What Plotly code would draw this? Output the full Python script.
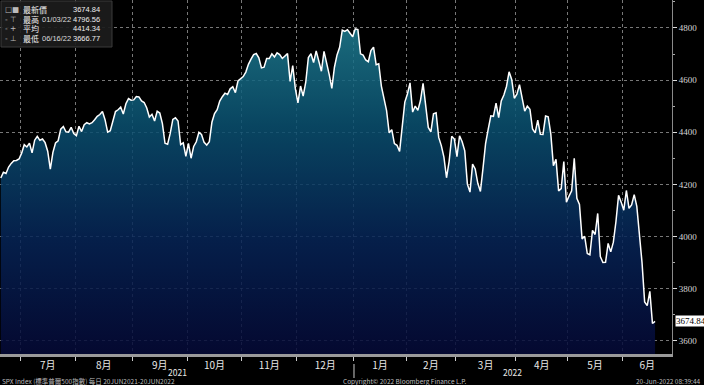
import pandas as pd
import plotly.graph_objects as go

# ---------------- data (SPX daily closes, 21 Jun 2021 - 17 Jun 2022) ----------------
start_date = "2021-06-21"
end_date = "2022-06-17"
market_holidays = ["2021-07-05", "2021-09-06", "2021-11-25", "2021-12-24",
                   "2022-01-17", "2022-02-21", "2022-04-15", "2022-05-30"]

close_2021_06 = [4224.79, 4246.44, 4241.84, 4266.49, 4280.70, 4290.61, 4291.80, 4297.50]
close_2021_07 = [4319.94, 4352.34, 4343.54, 4358.13, 4320.82, 4369.55, 4384.63, 4369.21, 4374.30,
                 4360.03, 4327.16, 4258.49, 4323.06, 4358.69, 4367.48, 4411.79, 4422.30, 4401.46,
                 4400.64, 4419.15, 4395.26]
close_2021_08 = [4387.16, 4423.15, 4402.66, 4429.10, 4436.52, 4432.35, 4436.75, 4447.70, 4460.83,
                 4468.00, 4479.71, 4448.08, 4400.27, 4405.80, 4441.67, 4479.53, 4486.23, 4496.19,
                 4469.91, 4509.37, 4528.79, 4522.68]
close_2021_09 = [4524.09, 4536.95, 4535.43, 4520.03, 4514.07, 4493.28, 4458.58, 4468.73, 4443.05,
                 4480.70, 4473.75, 4432.99, 4357.73, 4354.19, 4395.64, 4448.98, 4455.48, 4443.11,
                 4352.63, 4359.46, 4307.54]
close_2021_10 = [4357.04, 4300.46, 4345.72, 4363.55, 4399.76, 4391.34, 4361.19, 4350.65, 4363.80,
                 4438.26, 4471.37, 4486.46, 4519.63, 4536.19, 4549.78, 4544.90, 4566.48, 4574.79,
                 4551.68, 4596.42, 4605.38]
close_2021_11 = [4613.67, 4630.65, 4660.57, 4680.06, 4697.53, 4701.70, 4685.25, 4646.71, 4649.27,
                 4682.85, 4682.80, 4700.90, 4688.67, 4704.54, 4697.96, 4682.94, 4690.70, 4701.46,
                 4594.62, 4655.27, 4567.00]
close_2021_12 = [4513.04, 4577.10, 4538.43, 4591.67, 4686.75, 4701.21, 4667.45, 4712.02, 4668.97,
                 4634.09, 4709.85, 4668.67, 4620.64, 4568.02, 4649.23, 4696.56, 4725.79, 4791.19,
                 4786.35, 4793.06, 4778.73, 4766.18]
close_2022_01 = [4796.56, 4793.54, 4700.58, 4696.05, 4677.03, 4670.29, 4713.07, 4726.35, 4659.03,
                 4662.85, 4577.11, 4532.76, 4482.73, 4397.94, 4410.13, 4356.45, 4349.93, 4326.51,
                 4431.85, 4515.55]
close_2022_02 = [4546.54, 4589.38, 4477.44, 4500.53, 4483.87, 4521.54, 4587.18, 4504.08, 4418.64,
                 4401.67, 4471.07, 4475.01, 4380.26, 4348.87, 4304.76, 4225.50, 4288.70, 4384.65,
                 4373.94]
close_2022_03 = [4306.26, 4386.54, 4363.49, 4328.87, 4201.09, 4170.70, 4277.88, 4259.52, 4204.31,
                 4173.11, 4262.45, 4357.86, 4411.67, 4463.12, 4461.18, 4511.61, 4456.24, 4520.16,
                 4543.06, 4575.52, 4631.60, 4602.45, 4530.41]
close_2022_04 = [4545.86, 4582.64, 4525.12, 4481.15, 4500.21, 4488.28, 4412.53, 4397.45, 4446.59,
                 4392.59, 4391.69, 4462.21, 4459.45, 4393.66, 4271.78, 4296.12, 4175.20, 4183.96,
                 4287.50, 4131.93]
close_2022_05 = [4155.38, 4175.48, 4300.17, 4146.87, 4123.34, 3991.24, 4001.05, 3935.18, 3930.08,
                 4023.89, 4008.01, 4088.85, 3923.68, 3900.79, 3901.36, 3973.75, 3941.48, 3978.73,
                 4057.84, 4158.24, 4132.15]
close_2022_06 = [4101.23, 4176.82, 4108.54, 4121.43, 4160.68, 4115.77, 4017.82, 3900.86, 3749.63,
                 3735.48, 3789.99, 3666.77, 3674.84]

month_labels = ["7月", "8月", "9月", "10月", "11月", "12月", "1月", "2月", "3月", "4月", "5月", "6月"]
year_labels = ["2021", "2022"]
y_ticks = [3600, 3800, 4000, 4200, 4400, 4600, 4800]

legend_symbols = ["□■", "‐ ⊤", "‐ +", "‐ ⊥"]
legend_names = ["最新價", "最高", "平均", "最低"]
legend_dates = ["", "01/03/22", "", "06/16/22"]
legend_values = ["3674.84", "4796.56", "4414.34", "3666.77"]

footer_left = "SPX Index (標準普爾500指數) 每日 20JUN2021-20JUN2022"
footer_mid = "Copyright© 2022 Bloomberg Finance L.P."
footer_right = "20-Jun-2022 08:39:44"

# ---------------- build ----------------
closes = (close_2021_06 + close_2021_07 + close_2021_08 + close_2021_09 + close_2021_10 +
          close_2021_11 + close_2021_12 + close_2022_01 + close_2022_02 + close_2022_03 +
          close_2022_04 + close_2022_05 + close_2022_06)
dates = [d for d in pd.bdate_range(start_date, end_date)
         if d.strftime("%Y-%m-%d") not in market_holidays]
assert len(dates) == len(closes)
idx = list(range(len(closes)))

X_MAX = 257.5
Y_RANGE = [3550, 4907]
PW, PH = 672, 354  # plot area size in px

# month boundaries (index of first trading day of each month - 0.5)
boundaries = []
for i in range(1, len(dates)):
    if dates[i].month != dates[i - 1].month:
        boundaries.append(i - 0.5)
ends = boundaries[1:] + [X_MAX]
mids = [(a + b) / 2 for a, b in zip(boundaries, ends)]
year_break = [b for b in boundaries if dates[int(b + 0.5)].month == 1][0]
year_mids = [(0 + year_break) / 2, (year_break + X_MAX) / 2]

fig = go.Figure()
fig.add_trace(go.Scatter(x=idx, y=[Y_RANGE[0]] * len(idx), mode="lines",
                         line=dict(width=0), hoverinfo="skip", showlegend=False))
fig.add_trace(go.Scatter(
    x=idx, y=closes, mode="lines", fill="tonexty",
    line=dict(color="white", width=1.5),
    fillgradient=dict(type="vertical",
                      colorscale=[[0, "rgba(5,10,56,0.86)"],
                                  [0.35, "rgba(6,36,86,0.86)"],
                                  [0.7, "rgba(10,80,112,0.86)"],
                                  [1, "rgba(30,124,144,0.86)"]]),
    showlegend=False))

grid_col = "rgba(185,185,185,0.65)"
fig.update_layout(
    width=704, height=385,
    margin=dict(l=0, r=32, t=0, b=31, autoexpand=False),
    paper_bgcolor="black", plot_bgcolor="black",
    font=dict(family="Noto Sans CJK TC", color="white"),
    xaxis=dict(range=[-0.3, X_MAX], tickmode="array", tickvals=mids, ticktext=month_labels,
               ticks="", showgrid=False, zeroline=False, automargin=False,
               tickfont=dict(size=10, color="#e8e8e8"), ticklabelstandoff=0,
               showline=True, linecolor="#9a9a9a", linewidth=3,
               minor=dict(tickmode="array", tickvals=boundaries, ticks="outside", ticklen=4,
                          tickcolor="#cccccc", showgrid=True, gridcolor=grid_col,
                          griddash="dot", gridwidth=1)),
    yaxis=dict(side="right", range=Y_RANGE, tickmode="array", tickvals=y_ticks,
               ticks="outside", ticklen=4, tickcolor="#dddddd", showgrid=True,
               gridcolor=grid_col, griddash="dot", gridwidth=1, zeroline=False,
               showline=True, linecolor="#8a8a8a", linewidth=1, automargin=False,
               tickfont=dict(size=9, color="#d6d6d6", family="Liberation Serif"),
               minor=dict(dtick=100, ticks="outside", ticklen=2, tickcolor="#aaaaaa",
                          showgrid=False)),
)

# year labels and separator
for ym, yl in zip(year_mids, year_labels):
    fig.add_annotation(x=ym, y=0, xref="x", yref="paper", text=yl, showarrow=False,
                       yanchor="middle", yshift=-18, font=dict(size=8.5, color="#e8e8e8"))
fig.add_shape(type="line", xref="x", yref="paper", x0=year_break, x1=year_break,
              y0=-10 / PH, y1=-24 / PH, line=dict(color="#cccccc", width=1))

# footer
foot_font = dict(size=6.5, color="#bdbdbd", family="Noto Sans CJK TC")
fig.add_annotation(x=0, y=0, xref="paper", yref="paper", text=footer_left, showarrow=False,
                   xanchor="left", yanchor="middle", yshift=-26.5, font=foot_font)
fig.add_annotation(x=405 / PW, y=0, xref="paper", yref="paper", text=footer_mid,
                   showarrow=False, xanchor="center", yanchor="middle", yshift=-26.5,
                   font=foot_font)
fig.add_annotation(x=703 / PW, y=0, xref="paper", yref="paper", text=footer_right,
                   showarrow=False, xanchor="right", yanchor="middle", yshift=-26.5,
                   font=foot_font)

# last value label
fig.add_annotation(x=1, y=closes[-1], xref="paper", yref="y", text=f"{closes[-1]:.2f}",
                   showarrow=False, xanchor="left", xshift=3, bgcolor="white",
                   font=dict(size=9, color="black", family="Liberation Serif"),
                   borderpad=0)

# legend box
fig.add_shape(type="rect", xref="paper", yref="paper", x0=1 / PW, x1=112 / PW,
              y0=1 - 47 / PH, y1=1 - 1 / PH, fillcolor="rgba(28,28,28,0.92)",
              line=dict(color="#3a3a3a", width=1))
row_y = [9.5, 19, 28.5, 38]
for ry, sym, nm, dt, val in zip(row_y, legend_symbols, legend_names, legend_dates, legend_values):
    yy = 1 - ry / PH
    fig.add_annotation(x=3 / PW, y=yy, xref="paper", yref="paper", text=sym, showarrow=False,
                       xanchor="left", yanchor="middle", font=dict(size=7.5, color="#bbbbbb",
                                                                     family="DejaVu Sans"))
    fig.add_annotation(x=21 / PW, y=yy, xref="paper", yref="paper", text=nm, showarrow=False,
                       xanchor="left", yanchor="middle", font=dict(size=8, color="#eeeeee"))
    if dt:
        fig.add_annotation(x=40 / PW, y=yy, xref="paper", yref="paper", text=dt,
                           showarrow=False, xanchor="left", yanchor="middle",
                           font=dict(size=7.5, color="#dddddd", family="Liberation Sans"))
    fig.add_annotation(x=102 / PW, y=yy, xref="paper", yref="paper", text=val,
                       showarrow=False, xanchor="right", yanchor="middle",
                       font=dict(size=7.5, color="#eeeeee", family="Liberation Sans"))

fig.write_html("out.html", config={"displayModeBar": False},
               post_script="document.body.style.margin='0px';")
